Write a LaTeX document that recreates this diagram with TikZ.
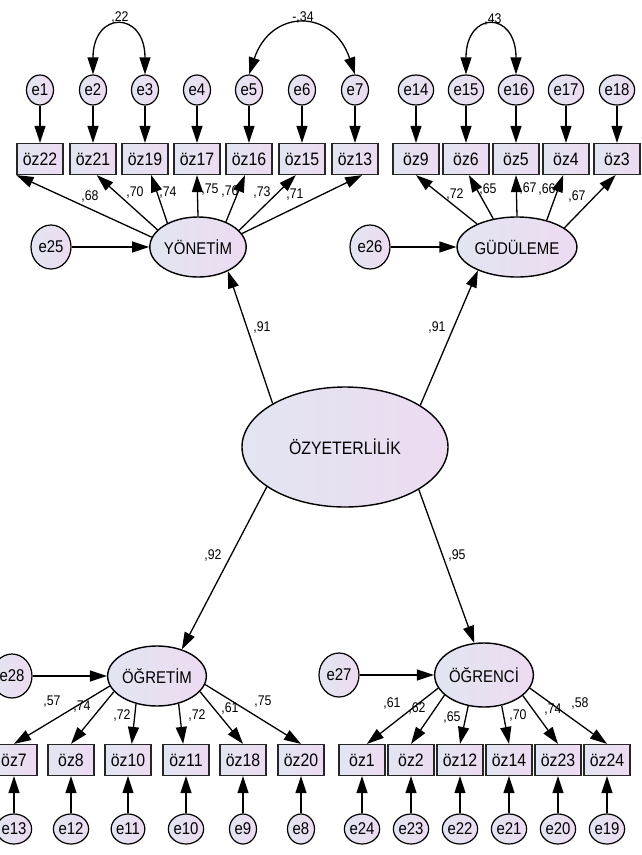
\documentclass[tikz,border=0pt]{standalone}
\usepackage{fontspec}
\setmainfont{Liberation Sans}[FakeStretch=0.88]
\usetikzlibrary{shapes.geometric,arrows.meta}

\definecolor{fillL}{RGB}{226,229,241}
\definecolor{fillR}{RGB}{237,219,241}

\tikzset{
	obs/.style={draw=black!85, line width=1.2pt, left color=fillL, right color=fillR,
		minimum width=46pt, minimum height=31pt, inner sep=0pt, font=\fontsize{18}{18}\selectfont},
	err/.style={ellipse, draw, line width=1.2pt, left color=fillL, right color=fillR,
		minimum width=27pt, minimum height=30pt, inner sep=0pt, font=\fontsize{17}{17}\selectfont},
	bigerr/.style={err, minimum width=40pt, minimum height=44pt},
	lat/.style={ellipse, draw, line width=1.4pt, left color=fillL, right color=fillR,
		minimum width=95pt, minimum height=60pt, inner sep=0pt, font=\fontsize{17}{17}\selectfont},
	pth/.style={-{Triangle[length=17pt,width=11pt]}, line width=1.3pt},
	cov/.style={{Triangle[length=17pt,width=11pt]}-{Triangle[length=17pt,width=11pt]}, line width=1.3pt},
	lbl/.style={inner sep=0pt, font=\fontsize{14}{14}\selectfont},
}

\begin{document}
\begin{tikzpicture}[x=1pt, y=-1pt]
	\useasboundingbox (0,0) rectangle (642,855);

	% gizil degiskenler
	\node[lat] (yon) at (198,247) {YÖNETİM};
	\node[lat] (gud) at (517,247) {GÜDÜLEME};
	\node[lat, minimum width=206pt, minimum height=120pt, font=\fontsize{18}{18}\selectfont] (ozy) at (345,447) {ÖZYETERLİLİK};
	\node[lat] (ogt) at (157,676) {ÖĞRETİM};
	\node[lat, minimum height=64pt] (ogr) at (484,675) {ÖĞRENCİ};

	\node[bigerr] (e25) at (51,247) {e25};
	\node[bigerr] (e26) at (370,247) {e26};
	\node[bigerr] (e28) at (12,676) {e28};
	\node[bigerr] (e27) at (339,675) {e27};

	\draw[pth] (e25) -- (yon);
	\draw[pth] (e26) -- (gud);
	\draw[pth] (e28) -- (ogt);
	\draw[pth] (e27) -- (ogr);

	% gozlenen degiskenler, ust
	\foreach \n/\x/\e in {22/40/1, 21/93/2, 19/145/3, 17/197/4, 16/249/5, 15/302/6, 13/355/7,
		9/416/14, 6/466/15, 5/516/16, 4/566/17, 3/617/18} {
		\node[obs] (oz\n) at (\x,159) {öz\n};
		\node[err] (e\e) at (\x,90) {e\e};
		\draw[pth] (e\e) -- (oz\n);
	}
	% gozlenen degiskenler, alt
	\foreach \n/\x/\e in {7/14/13, 8/71/12, 10/128/11, 11/186/10, 18/243/9, 20/301/8,
		1/362/24, 2/411/23, 12/460/22, 14/509/21, 23/558/20, 24/607/19} {
		\node[obs] (oz\n) at (\x,760) {öz\n};
		\node[err] (e\e) at (\x,829) {e\e};
		\draw[pth] (e\e) -- (oz\n);
	}

	% yukler
	\foreach \a/\b/\t in {168/22/south west, 157/21/-77, 142/19/-69, 90/17/south,
		42/16/-104, 22/15/-111, 17/13/-66} {
		\draw[pth] (yon.\a) -- (oz\b.\t);
	}
	\foreach \a/\b/\t in {150/9/south, 130/6/-80, 90/5/south, 42/4/-100, 22/3/-95} {
		\draw[pth] (gud.\a) -- (oz\b.\t);
	}
	\foreach \a/\b/\t in {192/7/north, 200/8/north, 233/10/77, 308/11/100, 340/18/north, 350/20/north} {
		\draw[pth] (ogt.\a) -- (oz\b.\t);
	}
	\foreach \a/\b/\t in {196/1/73, 207/2/north, 243/12/north, 300/14/north, 332/23/north, 344/24/north} {
		\draw[pth] (ogr.\a) -- (oz\b.\t);
	}

	\draw[pth] (ozy.149) -- (yon.-39);
	\draw[pth] (ozy.29) -- (gud.211);
	\draw[pth] (ozy.207) -- (ogt.47);
	\draw[pth] (ozy.330) -- (ogr.107);

	% kovaryanslar
	\draw[cov] (e2.north) .. controls +(0,-64) and +(0,-64) .. (e3.north);
	\draw[cov] (e5.north) .. controls +(22,-66) and +(-22,-66) .. (e7.north);
	\draw[cov] (e15.north) .. controls +(0,-64) and +(0,-64) .. (e16.north);

	\foreach \t/\x/\y [count=\i] in {{,22}/120/18, {-,34}/303/18, {,43}/493/20,
		{,68}/90/197, {,70}/135/193, {,74}/168/193, {,75}/210/190, {,76}/230/192, {,73}/262/193, {,71}/295/195,
		{,72}/455/195, {,65}/488/190, {,67}/528/189, {,66}/547/190, {,67}/577/197,
		{,91}/262/328, {,91}/437/328, {,92}/213/555, {,95}/457/555,
		{,57}/52/702, {,74}/82/707, {,72}/122/715, {,72}/197/715, {,61}/230/708, {,75}/263/702,
		{,61}/392/703, {,62}/417/708, {,65}/452/717, {,70}/518/715, {,74}/553/710, {,58}/580/703} {
		\node[lbl] (t\i) at (\x,\y) {\t};
	}
\end{tikzpicture}
\end{document}
